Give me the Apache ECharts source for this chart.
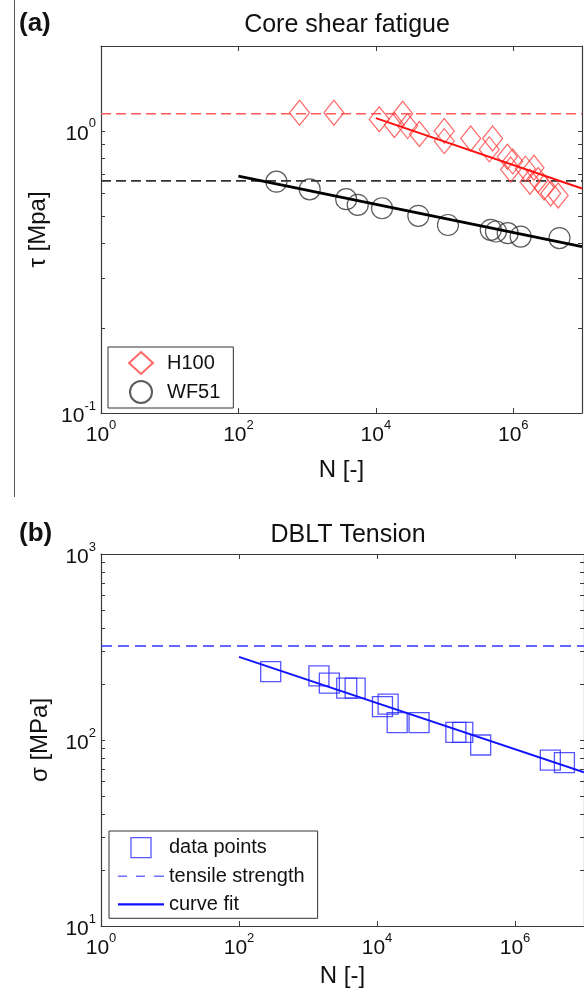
<!DOCTYPE html>
<html>
<head>
<meta charset="utf-8">
<script src="https://cdn.jsdelivr.net/npm/echarts@6/dist/echarts.min.js"></script>
<style>
html,body{margin:0;padding:0;background:#fff;}
#chart{width:584px;height:989px;}
</style>
</head>
<body>
<div id="chart"></div>
<script>
// ---------- data ----------
const xTickValues = [1, 100, 1e4, 1e6];
const tauLabelValues = [0.1, 1];
const tauTickValues = [0.1, 0.2, 0.3, 0.4, 0.5, 0.6, 0.7, 0.8, 0.9, 1, 2];
const sigmaLabelValues = [10, 100, 1000];
const sigmaTickValues = [10, 20, 30, 40, 50, 60, 70, 80, 90, 100, 200, 300, 400, 500, 600, 700, 800, 900, 1000];

const h100N   = [776, 2450, 11200, 18600, 24600, 29000, 43000, 99000, 99000, 240000, 500000, 447000, 820000, 980000, 915000, 1.5e6, 2.0e6, 1.75e6, 2.3e6, 2.8e6, 3.5e6, 4.5e6];
const h100Tau = [1.16, 1.16, 1.10, 1.05, 1.15, 1.04, 0.975, 1.0, 0.92, 0.94, 0.94, 0.86, 0.81, 0.78, 0.73, 0.735, 0.74, 0.66, 0.67, 0.63, 0.60, 0.59];

const wf51N   = [357, 1090, 3700, 5450, 12300, 41500, 112000, 470000, 560000, 830000, 1.28e6, 4.7e6];
const wf51Tau = [0.661, 0.621, 0.573, 0.547, 0.532, 0.50, 0.464, 0.446, 0.44, 0.434, 0.422, 0.417];

const h100FitN = [1e4, 1e7];
const h100FitTau = [1.11, 0.625];
const wf51FitN = [100, 1e7];
const wf51FitTau = [0.692, 0.389];
const strengthN = [1, 1e7];
const h100StrengthTau = [1.15, 1.15];
const wf51StrengthTau = [0.665, 0.665];

const dbltN     = [288, 1440, 2040, 3640, 4820, 12000, 14500, 19600, 40700, 139000, 175000, 318000, 3.25e6, 5.2e6];
const dbltSigma = [233, 221, 202, 190, 190, 151, 156, 124, 124, 110, 110, 94, 78, 75.5];
const dbltFitN = [100, 1e7];
const dbltFitSigma = [280, 67];
const tensileSigma = [320, 320];

// ---------- helpers ----------
const F = 'Liberation Sans, Arial, Helvetica, sans-serif';
const zip = (a, b) => a.map((v, i) => [v, b[i]]);
const TXT = '#111';
const AX = '#3a3a3a';

const richPow = {
  b: { fontSize: 21, fontFamily: F, color: TXT, padding: [6, 0, 0, 0] },
  s: { fontSize: 13, fontFamily: F, color: TXT, verticalAlign: 'top' }
};
const powFmt = v => '{b|10}{s|' + Math.round(Math.log10(v)) + '}';

function xAxes(grid) {
  return [
    {
      type: 'log', logBase: 10, gridIndex: grid, min: 1, max: 1e7, position: 'bottom',
      name: 'N [-]', nameLocation: 'middle', nameGap: grid === 0 ? 45 : 38,
      nameTextStyle: { fontSize: 24, fontFamily: F, color: TXT },
      axisLine: { show: true, lineStyle: { color: AX, width: 1.2 } },
      axisTick: { show: true, inside: true, length: 5, customValues: xTickValues, lineStyle: { color: AX } },
      axisLabel: { show: true, customValues: xTickValues, formatter: powFmt, rich: richPow, margin: 6 },
      splitLine: { show: false }, minorTick: { show: false }
    },
    {
      type: 'log', logBase: 10, gridIndex: grid, min: 1, max: 1e7, position: 'top',
      axisLine: { show: true, lineStyle: { color: AX, width: 1.2 } },
      axisTick: { show: true, inside: true, length: 5, customValues: xTickValues, lineStyle: { color: AX } },
      axisLabel: { show: false }, splitLine: { show: false }
    }
  ];
}
function yAxes(grid, min, max, labelVals, tickVals, name) {
  return [
    {
      type: 'log', logBase: 10, gridIndex: grid, min: min, max: max, position: 'left',
      name: name, nameLocation: 'middle', nameGap: 49, nameRotate: 90,
      nameTextStyle: { fontSize: 24, fontFamily: F, color: TXT },
      axisLine: { show: true, lineStyle: { color: AX, width: 1.2 } },
      axisTick: { show: true, inside: true, length: 4, customValues: tickVals, lineStyle: { color: AX } },
      axisLabel: { show: true, customValues: labelVals, formatter: powFmt, rich: richPow, margin: 5 },
      splitLine: { show: false }
    },
    {
      type: 'log', logBase: 10, gridIndex: grid, min: min, max: max, position: 'right',
      axisLine: { show: true, lineStyle: { color: AX, width: 1.2 } },
      axisTick: { show: true, inside: true, length: 4, customValues: tickVals, lineStyle: { color: AX } },
      axisLabel: { show: false }, splitLine: { show: false }
    }
  ];
}

const chart = echarts.init(document.getElementById('chart'), null, { renderer: 'canvas' });

const option = {
  animation: false,
  backgroundColor: '#fff',
  textStyle: { fontFamily: F },
  title: [
    { text: '(a)', left: 14, top: 6, textStyle: { fontSize: 26, fontWeight: 'bold', fontFamily: F, color: TXT } },
    { text: 'Core shear fatigue', left: 342, top: 8, textAlign: 'center', textStyle: { fontSize: 25, fontWeight: 'normal', fontFamily: F, color: TXT } },
    { text: '(b)', left: 14, top: 516, textStyle: { fontSize: 26, fontWeight: 'bold', fontFamily: F, color: TXT } },
    { text: 'DBLT Tension', left: 343, top: 518, textAlign: 'center', textStyle: { fontSize: 25, fontWeight: 'normal', fontFamily: F, color: TXT } }
  ],
  grid: [
    { left: 101, top: 46, width: 481, height: 367 },
    { left: 101, top: 554, width: 486, height: 372 }
  ],
  xAxis: [...xAxes(0), ...xAxes(1)],
  yAxis: [
    ...yAxes(0, 0.1, 2, tauLabelValues, tauTickValues, 'τ [Mpa]'),
    ...yAxes(1, 10, 1000, sigmaLabelValues, sigmaTickValues, 'σ [MPa]')
  ],
  legend: [
    {
      left: 108, top: 347, orient: 'vertical', data: ['H100', 'WF51'],
      itemWidth: 24, itemHeight: 22, itemGap: 5, padding: [4, 13, 4, 20],
      borderColor: '#333', borderWidth: 1, backgroundColor: '#fff', selectedMode: false,
      textStyle: { fontSize: 20, fontFamily: F, color: TXT, padding: [0, 0, 0, 9] }
    },
    {
      left: 109, top: 831, orient: 'vertical',
      data: [
        { name: 'data points', icon: 'path://M0,0H10V10H0Z', itemStyle: { color: 'rgba(0,0,0,0)', borderColor: '#2a2aff', borderWidth: 1.3 } },
        { name: 'tensile strength', icon: 'path://M0,0H9V1.5H0Z M18,0H27V1.5H18Z M36,0H46V1.5H36Z', itemStyle: { color: '#6e6eff', borderWidth: 0 } },
        { name: 'curve fit', icon: 'path://M0,0H46V2.2H0Z', itemStyle: { color: '#1212ff', borderWidth: 0 } }
      ],
      itemWidth: 46, itemHeight: 20, itemGap: 8, padding: [6, 13, 4, 9],
      borderColor: '#333', borderWidth: 1, backgroundColor: '#fff', selectedMode: false,
      textStyle: { fontSize: 20, fontFamily: F, color: TXT }
    }
  ],
  graphic: [
    { type: 'line', shape: { x1: 14.5, y1: 0, x2: 14.5, y2: 497 }, style: { stroke: '#555', lineWidth: 1 }, silent: true }
  ],
  series: [
    {
      name: 'H100 strength', type: 'line', xAxisIndex: 0, yAxisIndex: 0, data: zip(strengthN, h100StrengthTau),
      symbol: 'none', lineStyle: { color: '#ff5a5a', width: 1.6, type: [10, 5] }, z: 2
    },
    {
      name: 'WF51 strength', type: 'line', xAxisIndex: 0, yAxisIndex: 0, data: zip(strengthN, wf51StrengthTau),
      symbol: 'none', lineStyle: { color: '#333', width: 1.6, type: [10, 5] }, z: 2
    },
    {
      name: 'H100', type: 'scatter', xAxisIndex: 0, yAxisIndex: 0, data: zip(h100N, h100Tau),
      symbol: 'diamond', symbolSize: [20, 25],
      itemStyle: { color: 'rgba(0,0,0,0)', borderColor: '#ff4040', borderWidth: 1.2 }, z: 3
    },
    {
      name: 'WF51', type: 'scatter', xAxisIndex: 0, yAxisIndex: 0, data: zip(wf51N, wf51Tau),
      symbol: 'circle', symbolSize: 21,
      itemStyle: { color: 'rgba(0,0,0,0)', borderColor: '#333', borderWidth: 1.2 }, z: 3
    },
    {
      name: 'H100 fit', type: 'line', xAxisIndex: 0, yAxisIndex: 0, data: zip(h100FitN, h100FitTau),
      symbol: 'none', lineStyle: { color: '#ff1010', width: 2 }, z: 4
    },
    {
      name: 'WF51 fit', type: 'line', xAxisIndex: 0, yAxisIndex: 0, data: zip(wf51FitN, wf51FitTau),
      symbol: 'none', lineStyle: { color: '#000', width: 2.8 }, z: 4
    },
    {
      name: 'tensile strength', type: 'line', xAxisIndex: 2, yAxisIndex: 2, data: zip(strengthN, tensileSigma),
      symbol: 'none', itemStyle: { color: '#3535ff' }, lineStyle: { color: '#3535ff', width: 1.6, type: [11, 6] }, z: 2
    },
    {
      name: 'data points', type: 'scatter', xAxisIndex: 2, yAxisIndex: 2, data: zip(dbltN, dbltSigma),
      symbol: 'rect', symbolSize: 20,
      itemStyle: { color: 'rgba(0,0,0,0)', borderColor: '#2a2aff', borderWidth: 1.3 }, z: 3
    },
    {
      name: 'curve fit', type: 'line', xAxisIndex: 2, yAxisIndex: 2, data: zip(dbltFitN, dbltFitSigma),
      symbol: 'none', itemStyle: { color: '#1212ff' }, lineStyle: { color: '#1212ff', width: 2 }, z: 4
    }
  ]
};
chart.setOption(option);
</script>
</body>
</html>
